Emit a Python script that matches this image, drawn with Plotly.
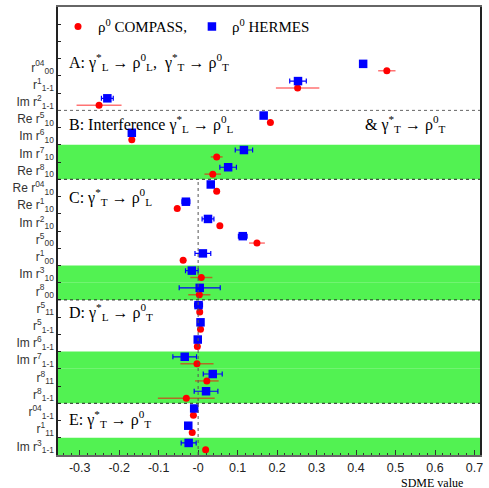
import plotly.graph_objects as go

# ---------------- data ----------------
sdme_labels = [
    "r<sup>04</sup><sub>00</sub>", "r<sup>1</sup><sub>1-1</sub>", "Im r<sup>2</sup><sub>1-1</sub>",
    "Re r<sup>5</sup><sub>10</sub>", "Im r<sup>6</sup><sub>10</sub>", "Im r<sup>7</sup><sub>10</sub>",
    "Re r<sup>8</sup><sub>10</sub>", "Re r<sup>04</sup><sub>10</sub>", "Re r<sup>1</sup><sub>10</sub>",
    "Im r<sup>2</sup><sub>10</sub>", "r<sup>5</sup><sub>00</sub>", "r<sup>1</sup><sub>00</sub>",
    "Im r<sup>3</sup><sub>10</sub>", "r<sup>8</sup><sub>00</sub>", "r<sup>5</sup><sub>11</sub>",
    "r<sup>5</sup><sub>1-1</sub>", "Im r<sup>6</sup><sub>1-1</sub>", "Im r<sup>7</sup><sub>1-1</sub>",
    "r<sup>8</sup><sub>11</sub>", "r<sup>8</sup><sub>1-1</sub>", "r<sup>04</sup><sub>1-1</sub>",
    "r<sup>1</sup><sub>11</sub>", "Im r<sup>3</sup><sub>1-1</sub>",
]
hermes_val = [0.418, 0.253, -0.230, 0.166, -0.168, 0.116, 0.076, 0.032, -0.031, 0.025, 0.113, 0.012,
              -0.016, 0.004, 0.001, 0.006, -0.001, -0.034, 0.037, 0.020, -0.010, -0.025, -0.024]
hermes_err = [0.008, 0.021, 0.015, 0.006, 0.005, 0.022, 0.021, 0.006, 0.010, 0.015, 0.011, 0.020,
              0.016, 0.052, 0.010, 0.005, 0.005, 0.030, 0.024, 0.030, 0.004, 0.006, 0.019]
compass_val = [0.478, 0.252, -0.251, 0.183, -0.168, 0.047, 0.037, 0.047, -0.053, 0.055, 0.149, -0.038,
               0.008, 0.003, 0.004, 0.006, -0.002, -0.003, 0.022, -0.030, -0.012, -0.015, 0.019]
compass_err = [0.022, 0.055, 0.057, 0.008, 0.008, 0.015, 0.021, 0.004, 0.005, 0.005, 0.020, 0.008,
               0.028, 0.028, 0.006, 0.004, 0.004, 0.042, 0.030, 0.072, 0.003, 0.004, 0.006]

green_rows = [5, 6, 12, 13, 17, 18, 19, 22]       # rows with green background
section_starts = [3, 7, 14, 20]                   # first row of sections B..E
x_tick_vals = [-0.3, -0.2, -0.1, 0.0, 0.1, 0.2, 0.3, 0.4, 0.5, 0.6, 0.7]
x_tick_text = ["-0.3", "-0.2", "-0.1", "-0", "0.1", "0.2", "0.3", "0.4", "0.5", "0.6", "0.7"]

n = len(sdme_labels)
pos = [n - 0.5 - i for i in range(n)]
XMIN, XMAX = -0.355, 0.714
YMAX = n + 3

fig = go.Figure()

fig.add_trace(go.Scatter(
    x=compass_val, y=[p - 0.2 for p in pos], mode="markers",
    name="ρ<sup>0</sup> COMPASS,",
    marker=dict(symbol="circle", size=7, color="#ff0000"),
    error_x=dict(type="data", array=compass_err, color="rgba(255,0,0,0.55)", thickness=1.5, width=0),
))
fig.add_trace(go.Scatter(
    x=hermes_val, y=[p + 0.2 for p in pos], mode="markers",
    name="ρ<sup>0</sup> HERMES",
    marker=dict(symbol="square", size=8.5, color="#0000ff"),
    error_x=dict(type="data", array=hermes_err, color="#0000ff", thickness=1.2, width=2.5),
))

shapes = []
for r in green_rows:
    shapes.append(dict(type="rect", xref="x", yref="y", x0=XMIN, x1=XMAX,
                       y0=pos[r] - 0.5, y1=pos[r] + 0.5, fillcolor="#52f252",
                       line=dict(width=0), layer="below"))
for k, s in enumerate(section_starts):
    yb = pos[s] + 0.5
    shapes.append(dict(type="line", xref="x", yref="y", x0=XMIN, x1=XMAX, y0=yb, y1=yb,
                       line=dict(color="#666" if k == 0 else "#222", width=1, dash="dot"), layer="above"))
# vertical zero line from bottom to start of section C
shapes.append(dict(type="line", xref="x", yref="y", x0=0, x1=0, y0=0, y1=pos[section_starts[1]] + 0.5,
                   line=dict(color="#555", width=1, dash="dot"), layer="above"))

serif = "Liberation Serif"
ann_font = dict(family=serif, size=16, color="black")
annotations = [
    dict(text="A: γ<sup>*</sup><sub>L</sub> → ρ<sup>0</sup><sub>L</sub>,  γ<sup>*</sup><sub>T</sub> → ρ<sup>0</sup><sub>T</sub>",
         x=0.021, y=22.8),
    dict(text="B: Interference γ<sup>*</sup><sub>L</sub> → ρ<sup>0</sup><sub>L</sub>", x=0.021, y=19.2),
    dict(text="& γ<sup>*</sup><sub>T</sub> → ρ<sup>0</sup><sub>T</sub>", x=0.723, y=19.2),
    dict(text="C: γ<sup>*</sup><sub>T</sub> → ρ<sup>0</sup><sub>L</sub>", x=0.021, y=15.0),
    dict(text="D: γ<sup>*</sup><sub>L</sub> → ρ<sup>0</sup><sub>T</sub>", x=0.021, y=8.3),
    dict(text="E: γ<sup>*</sup><sub>T</sub> → ρ<sup>0</sup><sub>T</sub>", x=0.021, y=2.1),
]
for a in annotations:
    a.update(xref="paper", yref="y", xanchor="left", yanchor="middle", showarrow=False, font=ann_font)
annotations.append(dict(text="SDME value", xref="paper", yref="paper", x=0.962, y=-0.063,
                        xanchor="right", yanchor="middle", showarrow=False, borderpad=0,
                        font=dict(family=serif, size=12, color="black")))

fig.update_layout(
    width=489, height=488,
    margin=dict(l=58, r=9, t=5, b=33),
    paper_bgcolor="white", plot_bgcolor="white",
    shapes=shapes, annotations=annotations,
    showlegend=True,
    legend=dict(orientation="h", x=0.0, y=24.85 / YMAX, xanchor="left", yanchor="middle",
                bgcolor="rgba(0,0,0,0)", font=dict(family=serif, size=15, color="black"),
                itemwidth=30, tracegroupgap=0),
    xaxis=dict(range=[XMIN, XMAX], tickmode="array", tickvals=x_tick_vals, ticktext=x_tick_text,
               ticks="inside", ticklen=5, tickcolor="#333", showgrid=False, zeroline=False,
               showline=True, linecolor="#666", linewidth=2, mirror=True,
               tickfont=dict(family="Liberation Sans", size=12.5, color="#222"),
               minor=dict(dtick=0.02, tick0=0, ticks="inside", ticklen=2, tickcolor="#333", showgrid=False)),
    yaxis=dict(range=[0, YMAX], tickmode="array", tickvals=pos, ticktext=sdme_labels,
               ticks="", showgrid=False, zeroline=False,
               showline=True, linecolor="#222", linewidth=1.5, mirror=True,
               tickfont=dict(family="Liberation Sans", size=12, color="#333"),
               minor=dict(tickmode="array", tickvals=list(range(1, YMAX)), ticks="inside",
                          ticklen=3, tickcolor="#222", showgrid=False)),
)

fig.write_html("out.html")
